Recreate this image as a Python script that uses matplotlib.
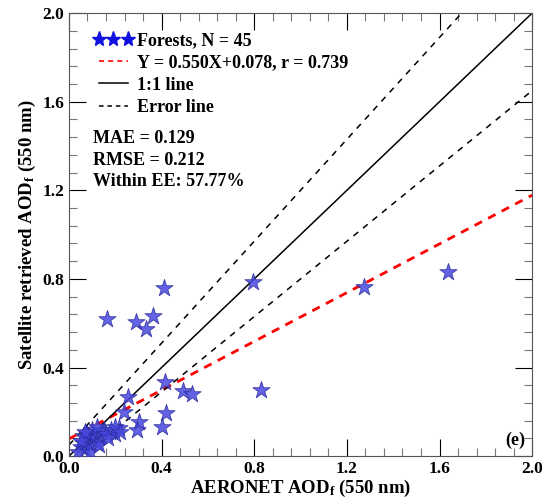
import matplotlib.pyplot as plt
from matplotlib.ticker import MultipleLocator
from matplotlib.lines import Line2D
import numpy as np

plt.rcParams['font.family'] = 'Liberation Serif'
plt.rcParams['font.weight'] = 'bold'
plt.rcParams['mathtext.fontset'] = 'custom'
plt.rcParams['mathtext.rm'] = 'Liberation Serif:bold'
plt.rcParams['mathtext.it'] = 'Liberation Serif:bold:italic'

# AERONET AODf (x) vs satellite retrieved AODf (y), forest sites
aeronet = [0.163, 0.289, 0.331, 0.364, 0.412, 0.793, 0.413, 0.491, 0.530, 0.829,
           0.255, 1.276, 1.636, 0.238, 0.419, 0.304, 0.400, 0.292, 0.217, 0.199,
           0.05, 0.06, 0.07, 0.08, 0.09, 0.10, 0.11, 0.12, 0.13, 0.14,
           0.15, 0.10, 0.08, 0.06, 0.04, 0.07, 0.12, 0.16, 0.18, 0.20,
           0.22, 0.05, 0.09, 0.13, 0.17]
satellite = [0.617, 0.606, 0.572, 0.633, 0.757, 0.787, 0.335, 0.295, 0.281, 0.299,
             0.268, 0.762, 0.829, 0.197, 0.193, 0.155, 0.132, 0.120, 0.125, 0.102,
             0.04, 0.06, 0.03, 0.07, 0.05, 0.08, 0.10, 0.06, 0.09, 0.11,
             0.12, 0.12, 0.10, 0.09, 0.02, 0.11, 0.13, 0.10, 0.12, 0.13,
             0.11, 0.07, 0.02, 0.05, 0.08]

slope, intercept, r_val = 0.550, 0.078, 0.739
mae, rmse, within_ee = 0.129, 0.212, 57.77
n_sites = 45

fig = plt.figure(figsize=(5.43, 5.04), dpi=100)
ax = fig.add_axes([0.127, 0.095, 0.853, 0.879])

xx = np.array([0.0, 2.0])
ax.plot(xx, slope * xx + intercept, '--', color='red', lw=2.0, dashes=(3, 2.5), zorder=2)
ax.plot(xx, xx, '-', color='black', lw=1.1, zorder=2)
ax.plot(xx, 1.15 * xx + 0.05, '--', color='black', lw=1.1, dashes=(4, 4), zorder=2)
ax.plot(xx, 0.85 * xx - 0.05, '--', color='black', lw=1.1, dashes=(4, 4), zorder=2)

ax.scatter(aeronet, satellite, marker='*', s=170, facecolor='#4848e0', alpha=0.85,
           edgecolor='#2a2a9a', linewidth=0.6, zorder=3)

ax.set_xlim(0, 2.0)
ax.set_ylim(0, 2.0)
ax.xaxis.set_major_locator(MultipleLocator(0.4))
ax.yaxis.set_major_locator(MultipleLocator(0.4))
ax.xaxis.set_minor_locator(MultipleLocator(0.08))
ax.yaxis.set_minor_locator(MultipleLocator(0.08))
ax.xaxis.set_major_formatter(lambda v, p: f'{v:.1f}')
ax.yaxis.set_major_formatter(lambda v, p: f'{v:.1f}')
ax.tick_params(which='both', direction='in', top=True, right=True, labelsize=12.5)
ax.tick_params(which='major', length=12, width=0.8)
ax.tick_params(which='minor', length=6, width=0.8, color='#777777')
for sp in ax.spines.values():
    sp.set_linewidth(0.8)
    sp.set_color('#555555')

ax.set_xlabel(r'AERONET AOD$_{\mathrm{f}}$ (550 nm)', fontsize=13.5, fontweight='bold',
              labelpad=1)
ax.set_ylabel(r'Satellite retrieved AOD$_{\mathrm{f}}$ (550 nm)', fontsize=13.5,
              fontweight='bold', labelpad=3)

handles = [
    Line2D([], [], marker='*', color='#1010e0', linestyle='none', markersize=11),
    Line2D([], [], color='red', linestyle='--', lw=1.2, dashes=(3, 2.5)),
    Line2D([], [], color='black', linestyle='-', lw=1.1),
    Line2D([], [], color='black', linestyle='--', lw=1.1, dashes=(3, 2.5)),
]
labels = [f'Forests, N = {n_sites}',
          f'Y = {slope:.3f}X+{intercept:.3f}, r = {r_val:.3f}',
          '1:1 line', 'Error line']
leg = ax.legend(handles, labels, loc='upper left', frameon=False, fontsize=13,
                numpoints=3, handlelength=2.2, handletextpad=0.2,
                labelspacing=0.3, borderaxespad=0.4, bbox_to_anchor=(0.022, 0.99))

ax.text(0.052, 0.716, f'MAE = {mae:.3f}', transform=ax.transAxes, fontsize=13,
        va='center')
ax.text(0.052, 0.668, f'RMSE = {rmse:.3f}', transform=ax.transAxes, fontsize=13,
        va='center')
ax.text(0.052, 0.619, f'Within EE: {within_ee:.2f}%', transform=ax.transAxes,
        fontsize=13, va='center')
ax.text(0.985, 0.015, '(e)', transform=ax.transAxes, fontsize=13, ha='right',
        va='bottom')

fig.savefig('out.png', dpi=100)
